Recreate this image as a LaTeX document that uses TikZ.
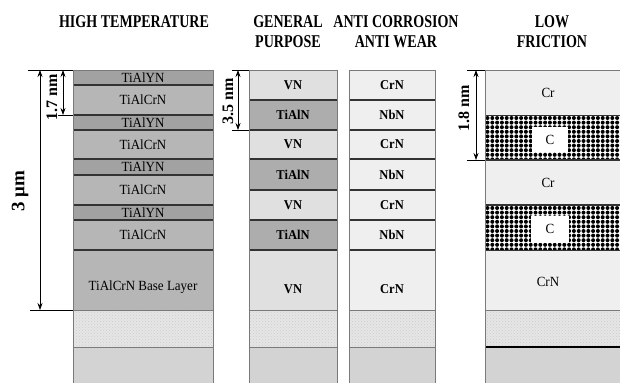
\documentclass[tikz,border=0pt]{standalone}
\usepackage{fontspec}
\setmainfont{Liberation Serif}
\newfontfamily\hdrfont[FakeStretch=0.78]{Liberation Serif}
\newfontfamily\lyrfont[FakeStretch=0.93]{Liberation Serif}
\usetikzlibrary{arrows.meta,patterns}
\definecolor{cYN}{HTML}{A2A2A2}
\definecolor{cACN}{HTML}{B6B6B6}
\definecolor{cVN}{HTML}{E0E0E0}
\definecolor{cTiAlN}{HTML}{ADADAD}
\definecolor{cLight}{HTML}{EFEFEF}
\definecolor{cSub}{HTML}{D3D3D3}
\definecolor{cHatch}{HTML}{E6E6E6}
\definecolor{cSep}{HTML}{333333}
\definecolor{cOut}{HTML}{7A7A7A}
\tikzset{
  hdr/.style={font=\hdrfont\bfseries\fontsize{18}{20}\selectfont, align=center, inner sep=0pt},
  lyr/.style={font=\lyrfont\fontsize{14}{16}\selectfont, inner sep=0pt},
  lyrb/.style={font=\lyrfont\bfseries\fontsize{13.5}{16}\selectfont, inner sep=0pt},
  dimlbl/.style={font=\bfseries\fontsize{16}{18}\selectfont, rotate=90, inner sep=0pt},
  sep/.style={draw=cSep, line width=1.4pt},
  thinsep/.style={draw=cOut, line width=0.8pt},
  outer/.style={draw=cOut, line width=0.9pt},
  dimarrow/.style={draw=black, line width=0.7pt, {Stealth[length=7pt,width=5pt]}-{Stealth[length=7pt,width=5pt]}},
  ext/.style={draw=black, line width=0.7pt},
  hatchfill/.style={fill=cHatch, postaction={pattern=crosshatch dots, pattern color=gray!40}}
}
\begin{document}
\begin{tikzpicture}[x=1pt,y=-1pt]
\useasboundingbox (0,0) rectangle (620,383);
% ---------------- headers
\node[hdr] (h1) at (134,21.5) {HIGH TEMPERATURE};
\node[hdr] (h2) at (288,31.5) {GENERAL\\PURPOSE};
\node[hdr] (h3) at (396,31.5) {ANTI CORROSION\\ANTI WEAR};
\node[hdr] (h4) at (552,31.5) {LOW\\FRICTION};

% ---------------- column 1 : high temperature (x 73..213)
\fill[cYN]  (73,70) rectangle (213,85);
\fill[cACN] (73,85) rectangle (213,115);
\fill[cYN]  (73,115) rectangle (213,130);
\fill[cACN] (73,130) rectangle (213,159);
\fill[cYN]  (73,159) rectangle (213,175);
\fill[cACN] (73,175) rectangle (213,205);
\fill[cYN]  (73,205) rectangle (213,220);
\fill[cACN] (73,220) rectangle (213,250);
\fill[cACN] (73,250) rectangle (213,310);
\fill[hatchfill] (73,310) rectangle (213,347);
\fill[cSub] (73,347) rectangle (213,383);
\foreach \yy in {85,115,130,159,175,205,220,250} \draw[sep] (73,\yy) -- (213,\yy);
\draw[thinsep] (73,310) -- (213,310);
\draw[thinsep] (73,347) -- (213,347);
\draw[outer] (73,383) -- (73,70) -- (213,70) -- (213,383);
\node[lyr] (a1) at (143,77.5) {TiAlYN};
\node[lyr] (a2) at (143,100) {TiAlCrN};
\node[lyr] (a3) at (143,122.5) {TiAlYN};
\node[lyr] (a4) at (143,144.5) {TiAlCrN};
\node[lyr] (a5) at (143,167) {TiAlYN};
\node[lyr] (a6) at (143,190) {TiAlCrN};
\node[lyr] (a7) at (143,212.5) {TiAlYN};
\node[lyr] (a8) at (143,235) {TiAlCrN};
\node[lyr] (a9) at (143,287) {TiAlCrN Base Layer};

% dimension 3 um and 1.7 nm
\coordinate (t3a) at (28,70);
\coordinate (t3b) at (73,70);
\coordinate (b3a) at (30,310);
\coordinate (b3b) at (73,310);
\draw[ext] (t3a) -- (t3b);
\draw[ext] (b3a) -- (b3b);
\coordinate (d3t) at (40,70);
\coordinate (d3b) at (40,310);
\draw[dimarrow] (d3t) -- (d3b);
\node[dimlbl, font=\bfseries\fontsize{19}{21}\selectfont] (l3) at (20,191) {3 μm};
\coordinate (e17a) at (58,115);
\coordinate (e17b) at (73,115);
\draw[ext] (e17a) -- (e17b);
\coordinate (d17t) at (63,70);
\coordinate (d17b) at (63,115);
\draw[dimarrow] (d17t) -- (d17b);
\node[dimlbl] (l17) at (52,97) {1.7 nm};

% ---------------- column 2 : general purpose (x 249..337)
\fill[cVN]    (249,70) rectangle (337,100);
\fill[cTiAlN] (249,100) rectangle (337,130);
\fill[cVN]    (249,130) rectangle (337,159);
\fill[cTiAlN] (249,159) rectangle (337,190);
\fill[cVN]    (249,190) rectangle (337,220);
\fill[cTiAlN] (249,220) rectangle (337,250);
\fill[cVN]    (249,250) rectangle (337,310);
\fill[hatchfill] (249,310) rectangle (337,347);
\fill[cSub]   (249,347) rectangle (337,383);
\foreach \yy in {100,130,159,190,220,250} \draw[sep] (249,\yy) -- (337,\yy);
\draw[thinsep] (249,310) -- (337,310);
\draw[thinsep] (249,347) -- (337,347);
\draw[outer] (249,383) -- (249,70) -- (337,70) -- (337,383);
\node[lyrb] (b1) at (293,85) {VN};
\node[lyrb] (b2) at (293,115) {TiAlN};
\node[lyrb] (b3) at (293,144.5) {VN};
\node[lyrb] (b4) at (293,174.5) {TiAlN};
\node[lyrb] (b5) at (293,205) {VN};
\node[lyrb] (b6) at (293,235) {TiAlN};
\node[lyrb] (b7) at (293,289) {VN};

% dimension 3.5 nm
\coordinate (e35a) at (232,70);
\coordinate (e35b) at (249,70);
\coordinate (e35c) at (232,130);
\coordinate (e35d) at (249,130);
\draw[ext] (e35a) -- (e35b);
\draw[ext] (e35c) -- (e35d);
\coordinate (d35t) at (238,70);
\coordinate (d35b) at (238,130);
\draw[dimarrow] (d35t) -- (d35b);
\node[dimlbl] (l35) at (228,101) {3.5 nm};

% ---------------- column 3 : anti corrosion (x 349..435)
\fill[cLight] (349,70) rectangle (435,310);
\fill[hatchfill] (349,310) rectangle (435,347);
\fill[cSub]   (349,347) rectangle (435,383);
\foreach \yy in {100,130,159,190,220,250} \draw[sep] (349,\yy) -- (435,\yy);
\draw[thinsep] (349,310) -- (435,310);
\draw[thinsep] (349,347) -- (435,347);
\draw[outer] (349,383) -- (349,70) -- (435,70) -- (435,383);
\node[lyrb] (c1) at (392,85) {CrN};
\node[lyrb] (c2) at (392,115) {NbN};
\node[lyrb] (c3) at (392,144.5) {CrN};
\node[lyrb] (c4) at (392,174.5) {NbN};
\node[lyrb] (c5) at (392,205) {CrN};
\node[lyrb] (c6) at (392,235) {NbN};
\node[lyrb] (c7) at (392,289) {CrN};

% ---------------- column 4 : low friction (x 485..620)
\fill[cLight] (485,70) rectangle (620,310);
\fill[white] (485,115) rectangle (620,160);
\fill[white] (485,205) rectangle (620,250);
\begin{scope}
  \clip (485,116) rectangle (620,159);
  \foreach \i in {0,...,28} \foreach \j in {0,...,9}
    \fill[black] (487.5+\i*4.8,118+\j*4.6) circle (2.0);
\end{scope}
\begin{scope}
  \clip (485,206) rectangle (620,249);
  \foreach \i in {0,...,28} \foreach \j in {0,...,9}
    \fill[black] (487.5+\i*4.8,208+\j*4.6) circle (2.0);
\end{scope}
\fill[hatchfill] (485,310) rectangle (620,347);
\fill[cSub] (485,347) rectangle (620,383);
\draw[sep, line width=1pt] (485,115) -- (620,115);
\draw[sep] (485,160) -- (620,160);
\draw[sep] (485,205) -- (620,205);
\draw[sep, line width=1pt] (485,250) -- (620,250);
\draw[thinsep] (485,310) -- (620,310);
\draw[draw=black, line width=2pt] (485,347) -- (620,347);
\draw[outer] (485,383) -- (485,70) -- (620,70);
\node[lyr] (d1) at (548,92.5) {Cr};
\node[lyr, fill=white, minimum width=36pt, minimum height=25pt] (d2) at (550,139.5) {C};
\node[lyr] (d3) at (548,183) {Cr};
\node[lyr, fill=white, minimum width=38pt, minimum height=27pt] (d4) at (550,229) {C};
\node[lyr] (d5) at (548,282) {CrN};

% dimension 1.8 nm
\coordinate (e18a) at (467,70);
\coordinate (e18b) at (485,70);
\coordinate (e18c) at (467,160);
\coordinate (e18d) at (485,160);
\draw[ext] (e18a) -- (e18b);
\draw[ext] (e18c) -- (e18d);
\coordinate (d18t) at (476,70);
\coordinate (d18b) at (476,160);
\draw[dimarrow] (d18t) -- (d18b);
\node[dimlbl] (l18) at (464,108) {1.8 nm};
\end{tikzpicture}
\end{document}
